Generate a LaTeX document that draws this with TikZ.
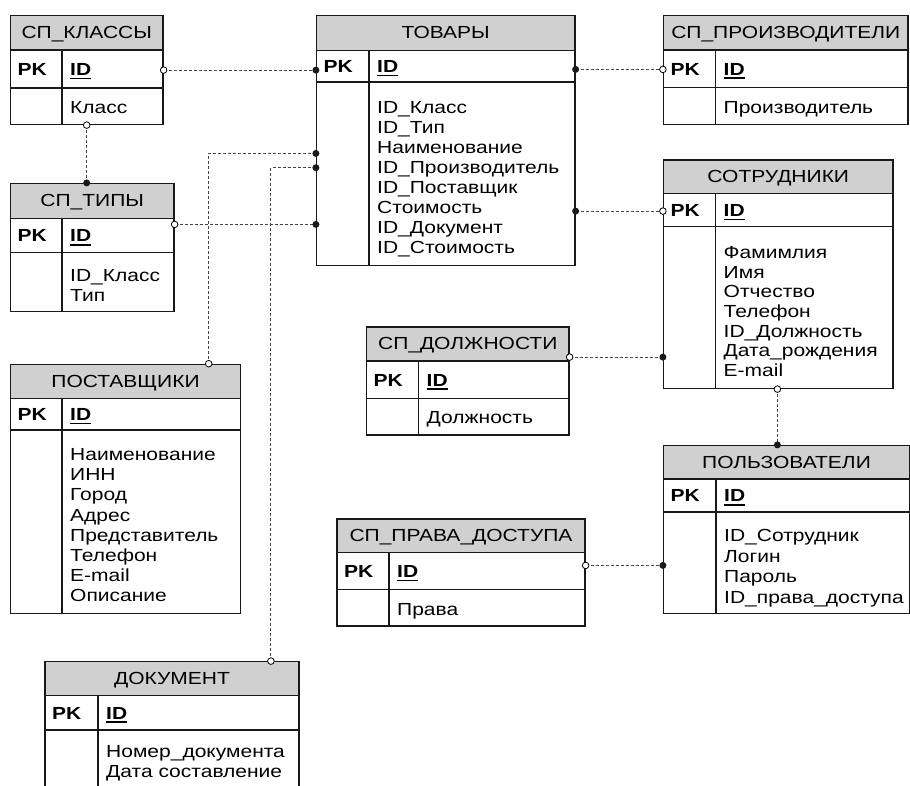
\documentclass[tikz,border=0pt]{standalone}
\usepackage{fontspec}
\setmainfont{Liberation Sans}[FakeStretch=1.2]
\usetikzlibrary{fit}

\definecolor{hdrgray}{RGB}{208,208,208}
\definecolor{framecol}{RGB}{25,25,25}
\definecolor{linkcol}{RGB}{70,70,70}

\tikzset{
  frame/.style={draw=framecol, line width=1.2pt, inner sep=0pt},
  header/.style={frame, fill=hdrgray},
  txt/.style={inner sep=0pt, font=\fontsize{17.5}{20}\selectfont, text=black},
  link/.style={draw=linkcol, line width=1pt, dash pattern=on 3pt off 2pt},
  opend/.style={draw=black, fill=white, line width=0.8pt},
}

% bold, underlined key field name
\newcommand\keyfield[1]{\setbox0=\hbox{\bfseries #1}\leavevmode\rlap{\vrule width\wd0 height -2.2pt depth 3.8pt}\box0}

% entity box: name, left, right, divider, top, header bottom, key-row bottom, bottom, title
\newcommand\tablebox[9]{%
  \def\tbdiv{#4}%
  \node[header, fit={(#2,#5) (#3,#6)}] (#1-head) {};
  \node[frame, fit={(#2,#5) (#3,#8)}] (#1) {};
  \draw[framecol, line width=1.2pt] (#2,#7) -- (#3,#7) (#4,#6) -- (#4,#8);
  \node[txt, anchor=base] (#1-title) at ({(#2+#3)/2},{(#5+#6)/2+5.8}) {#9};
  \node[txt, anchor=base west] (#1-pk) at ({#2+7},{(#6+#7)/2+6.3}) {\bfseries PK};
  \node[txt, anchor=base west] (#1-id) at ({#4+8},{(#6+#7)/2+6.3}) {\keyfield{ID}};
}
% attribute list: name, first baseline, line step, items
\newcommand\tableattrs[4]{%
  \foreach \attrtext [count=\attrnum] in {#4}
    \node[txt, anchor=base west] (#1-a\attrnum) at ({\tbdiv+8},{#2+(\attrnum-1)*#3}) {\attrtext};
}
\newcommand\opentip[1]{\draw[opend] (#1) circle (3.3pt);}
\newcommand\solidtip[1]{\fill[framecol] (#1) circle (3.5pt);}

\begin{document}
\begin{tikzpicture}[x=1pt, y=-1pt]
\fill[white] (0,0) rectangle (910,785);
\useasboundingbox (0,0) rectangle (910,785);
\clip (0,0) rectangle (910,785);

% entities
\tablebox{klassy}{10.5}{163}{62}{15.5}{50}{88}{124.5}{СП\_КЛАССЫ}
\tableattrs{klassy}{113.5}{20}{Класс}

\tablebox{tipy}{10.5}{174}{62}{183.5}{218.5}{252.5}{311.5}{СП\_ТИПЫ}
\tableattrs{tipy}{281.7}{20}{ID\_Класс, Тип}

\tablebox{tovary}{316.5}{575}{369}{15.5}{50.5}{82}{265.5}{ТОВАРЫ}
\tableattrs{tovary}{113.8}{20}{ID\_Класс, ID\_Тип, Наименование, ID\_Производитель, ID\_Поставщик, Стоимость, ID\_Документ, ID\_Стоимость}

\tablebox{proizv}{663.5}{908}{715.5}{15.5}{50}{87.5}{124.5}{СП\_ПРОИЗВОДИТЕЛИ}
\tableattrs{proizv}{113.3}{20}{Производитель}

\tablebox{sotr}{663.5}{893}{715.5}{160}{193.5}{226.5}{388.5}{СОТРУДНИКИ}
\tableattrs{sotr}{258.3}{19.7}{Фамимлия, Имя, Отчество, Телефон, ID\_Должность, Дата\_рождения, E-mail}

\tablebox{postav}{10.5}{240.5}{62}{364.3}{398.3}{430}{613.5}{ПОСТАВЩИКИ}
\tableattrs{postav}{460.7}{20.1}{Наименование, ИНН, Город, Адрес, Представитель, Телефон, E-mail, Описание}

\tablebox{dolzh}{366.5}{569}{418.5}{327}{361}{398.5}{435}{СП\_ДОЛЖНОСТИ}
\tableattrs{dolzh}{423.3}{20}{Должность}

\tablebox{polz}{663.5}{909.5}{716}{445.5}{479}{512}{613.5}{ПОЛЬЗОВАТЕЛИ}
\tableattrs{polz}{541.7}{20.5}{ID\_Сотрудник, Логин, Пароль, ID\_права\_доступа}

\tablebox{prava}{337}{585}{389}{519}{552.5}{589.5}{626}{СП\_ПРАВА\_ДОСТУПА}
\tableattrs{prava}{615}{20}{Права}

\tablebox{dokum}{45}{299}{98}{661.7}{695.5}{730}{800}{ДОКУМЕНТ}
\tableattrs{dokum}{757}{20}{Номер\_документа, Дата составление}

% attachment points of the relationships
\coordinate (k1) at ([yshift=-55.2pt]klassy.north east);
\coordinate (k2) at ([xshift=76.8pt]klassy.south west);
\coordinate (t1) at ([yshift=-41.5pt]tipy.north east);
\coordinate (p1) at ([xshift=198.8pt]postav.north west);
\coordinate (v1) at ([yshift=-138.5pt]tovary.north west);
\coordinate (d1) at ([xshift=226.5pt]dokum.north west);
\coordinate (v2) at ([yshift=-152.8pt]tovary.north west);
\coordinate (v3) at ([yshift=-54.5pt]tovary.north east);
\coordinate (v4) at ([yshift=-196.2pt]tovary.north east);
\coordinate (dl) at ([yshift=-30.7pt]dolzh.north east);
\coordinate (s1) at ([xshift=114.5pt]sotr.south west);
\coordinate (r1) at ([yshift=-47pt]prava.north east);

% relationships
\draw[link] (k1) -- (tovary.west |- k1);
\draw[link] (k2) -- (k2 |- tipy.north);
\draw[link] (t1) -- (tovary.west |- t1);
\draw[link] (p1) |- (v1);
\draw[link] (d1) |- (v2);
\draw[link] (v3) -- (proizv.west |- v3);
\draw[link] (v4) -- (sotr.west |- v4);
\draw[link] (dl) -- (sotr.west |- dl);
\draw[link] (s1) -- (s1 |- polz.north);
\draw[link] (r1) -- (polz.west |- r1);

% relationship ends
\opentip{k1} \solidtip{tovary.west |- k1}
\opentip{k2} \solidtip{k2 |- tipy.north}
\opentip{t1} \solidtip{tovary.west |- t1}
\opentip{p1} \solidtip{v1}
\opentip{d1} \solidtip{v2}
\solidtip{v3} \opentip{proizv.west |- v3}
\solidtip{v4} \opentip{sotr.west |- v4}
\opentip{dl} \solidtip{sotr.west |- dl}
\opentip{s1} \solidtip{s1 |- polz.north}
\opentip{r1} \solidtip{polz.west |- r1}
\end{tikzpicture}
\end{document}
